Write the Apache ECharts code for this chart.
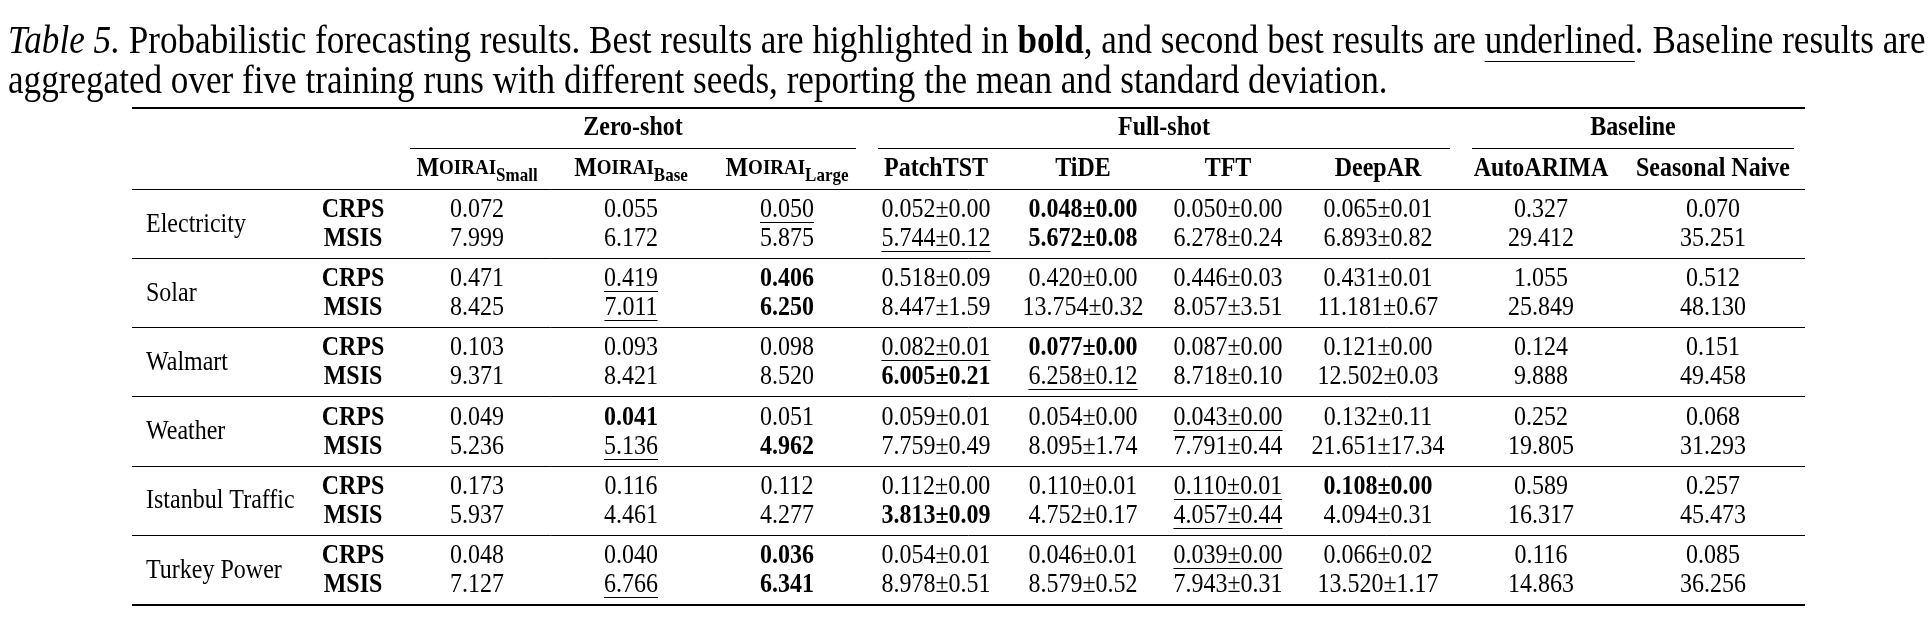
<!DOCTYPE html>
<html>
<head>
<meta charset="utf-8">
<script src="https://cdn.jsdelivr.net/npm/echarts@6/dist/echarts.min.js"></script>
<style>html,body{margin:0;padding:0;background:#fff}#c{width:1932px;height:632px}</style>
</head>
<body>
<div id="c"></div>
<script>
// ---------------- text / data ----------------
const captionLine1 = [
  { t: 'Table 5.', f: 'italic' },
  { t: ' Probabilistic forecasting results. Best results are highlighted in ' },
  { t: 'bold', f: 'bold' },
  { t: ', and second best results are ' },
  { t: 'underlined', u: true },
  { t: '. Baseline results are' }
];
const captionLine2 = 'aggregated over five training runs with different seeds, reporting the mean and standard deviation.';

const groupNames = ['Zero-shot', 'Full-shot', 'Baseline'];
const groupSpans = [3, 4, 2];
const moiraiSizes = ['Small', 'Base', 'Large'];
const otherModels = ['PatchTST', 'TiDE', 'TFT', 'DeepAR', 'AutoARIMA', 'Seasonal Naive'];
const datasets = ['Electricity', 'Solar', 'Walmart', 'Weather', 'Istanbul Traffic', 'Turkey Power'];
const metrics = ['CRPS', 'MSIS'];

// values: [CRPS, MSIS] per dataset, in dataset order
const moiraiSmall   = [0.072, 7.999, 0.471, 8.425, 0.103, 9.371, 0.049, 5.236, 0.173, 5.937, 0.048, 7.127];
const moiraiBase    = [0.055, 6.172, 0.419, 7.011, 0.093, 8.421, 0.041, 5.136, 0.116, 4.461, 0.040, 6.766];
const moiraiLarge   = [0.050, 5.875, 0.406, 6.250, 0.098, 8.520, 0.051, 4.962, 0.112, 4.277, 0.036, 6.341];
const patchTSTMean  = [0.052, 5.744, 0.518, 8.447, 0.082, 6.005, 0.059, 7.759, 0.112, 3.813, 0.054, 8.978];
const patchTSTStd   = [0.00, 0.12, 0.09, 1.59, 0.01, 0.21, 0.01, 0.49, 0.00, 0.09, 0.01, 0.51];
const tideMean      = [0.048, 5.672, 0.420, 13.754, 0.077, 6.258, 0.054, 8.095, 0.110, 4.752, 0.046, 8.579];
const tideStd       = [0.00, 0.08, 0.00, 0.32, 0.00, 0.12, 0.00, 1.74, 0.01, 0.17, 0.01, 0.52];
const tftMean       = [0.050, 6.278, 0.446, 8.057, 0.087, 8.718, 0.043, 7.791, 0.110, 4.057, 0.039, 7.943];
const tftStd        = [0.00, 0.24, 0.03, 3.51, 0.00, 0.10, 0.00, 0.44, 0.01, 0.44, 0.00, 0.31];
const deepARMean    = [0.065, 6.893, 0.431, 11.181, 0.121, 12.502, 0.132, 21.651, 0.108, 4.094, 0.066, 13.520];
const deepARStd     = [0.01, 0.82, 0.01, 0.67, 0.00, 0.03, 0.11, 17.34, 0.00, 0.31, 0.02, 1.17];
const autoARIMA     = [0.327, 29.412, 1.055, 25.849, 0.124, 9.888, 0.252, 19.805, 0.589, 16.317, 0.116, 14.863];
const seasonalNaive = [0.070, 35.251, 0.512, 48.130, 0.151, 49.458, 0.068, 31.293, 0.257, 45.473, 0.085, 36.256];

// [datasetIndex, metricIndex, modelIndex]
const bestCells = [[0,0,4],[0,1,4],[1,0,2],[1,1,2],[2,0,4],[2,1,3],[3,0,1],[3,1,2],[4,0,6],[4,1,3],[5,0,2],[5,1,2]];
const secondCells = [[0,0,2],[0,1,3],[1,0,1],[1,1,1],[2,0,3],[2,1,4],[3,0,5],[3,1,1],[4,0,5],[4,1,5],[5,0,5],[5,1,1]];

// ---------------- layout ----------------
const FONT = '"Liberation Serif", "Times New Roman", serif';
const FS = 24;
const STRETCH = 1.12;
const tableLeft = 132;
const colWidths = [175, 92, 156, 152, 160, 138, 156, 134, 166, 160, 184];
const nameIndent = 14;
const cmidTrim = 11;
const yTopRule = 108, yGroupHdr = 128, yCmid = 148, yColHdr = 169, yMidRule = 189;
const yFirstRow = 210, linePitch = 29, groupPitch = 69.2, ruleBelow = 48;
const captionLeft = 8, captionWidth = 1918, captionY1 = 43, captionY2 = 83;

const mctx = document.createElement('canvas').getContext('2d');
function textWidth(t, font) { mctx.font = font; return mctx.measureText(t).width; }

const colEdges = [tableLeft];
colWidths.forEach(w => colEdges.push(colEdges[colEdges.length - 1] + w));
const colCenter = i => (colEdges[i] + colEdges[i + 1]) / 2;
const tableRight = colEdges[colEdges.length - 1];

const valueCols = [
  { m: moiraiSmall }, { m: moiraiBase }, { m: moiraiLarge },
  { m: patchTSTMean, s: patchTSTStd }, { m: tideMean, s: tideStd },
  { m: tftMean, s: tftStd }, { m: deepARMean, s: deepARStd },
  { m: autoARIMA }, { m: seasonalNaive }
];

// ---------------- build cells ----------------
const cellPos = [], cellMeta = [];
function addCell(x, y, text, opt) { cellPos.push([x, y]); cellMeta.push(Object.assign({ text: text }, opt || {})); }

let startCol = 2;
const ruleData = [];
ruleData.push([tableLeft, tableRight, yTopRule, 2]);
groupNames.forEach((g, gi) => {
  const endCol = startCol + groupSpans[gi];
  addCell((colEdges[startCol] + colEdges[endCol]) / 2, yGroupHdr, g, { bold: true });
  ruleData.push([colEdges[startCol] + cmidTrim, colEdges[endCol] - cmidTrim, yCmid + 0.5, 1]);
  startCol = endCol;
});
ruleData.push([tableLeft, tableRight, yMidRule + 0.5, 1]);

const richHdr = {
  m: { fontFamily: FONT, fontWeight: 'bold', fontSize: 24 },
  sc: { fontFamily: FONT, fontWeight: 'bold', fontSize: 19 },
  sub: { fontFamily: FONT, fontWeight: 'bold', fontSize: 17, padding: [13, 0, 0, 0] }
};
moiraiSizes.forEach((s, i) => {
  addCell(colCenter(2 + i), yColHdr, '{m|M}{sc|OIRAI}{sub|' + s + '}', { bold: true, rich: richHdr });
});
otherModels.forEach((s, i) => addCell(colCenter(5 + i), yColHdr, s, { bold: true }));

const isIn = (arr, d, mt, mi) => arr.some(a => a[0] === d && a[1] === mt && a[2] === mi);

datasets.forEach((ds, d) => {
  const yBase = yFirstRow + d * groupPitch;
  addCell(tableLeft + nameIndent, yBase + linePitch / 2, ds, { align: 'left' });
  metrics.forEach((mt, k) => {
    const y = Math.round(yBase + k * linePitch);
    addCell(colCenter(1), y, mt, { bold: true });
    valueCols.forEach((vc, mi) => {
      const idx = d * 2 + k;
      let txt = vc.m[idx].toFixed(3);
      if (vc.s) txt += '±' + vc.s[idx].toFixed(2);
      addCell(colCenter(2 + mi), y, txt, { bold: isIn(bestCells, d, k, mi), underline: isIn(secondCells, d, k, mi) });
    });
  });
  const yr = Math.round(yBase + ruleBelow);
  if (d < datasets.length - 1) ruleData.push([tableLeft, tableRight, yr + 0.5, 1]);
  else ruleData.push([tableLeft, tableRight, yr + 1, 2]);
});

function renderCell(params, api) {
  const m = cellMeta[params.dataIndex];
  const p = api.coord([api.value(0), api.value(1)]);
  const font = (m.bold ? 'bold ' : '') + FS + 'px ' + FONT;
  const style = { text: m.text, font: font, fill: '#000', align: m.align || 'center', verticalAlign: 'middle' };
  if (m.rich) style.rich = m.rich;
  const children = [{ type: 'text', x: Math.round(p[0]), y: p[1], scaleY: STRETCH, style: style }];
  if (m.underline) {
    const w = textWidth(m.text, font);
    const x0 = (m.align === 'left') ? p[0] : p[0] - w / 2;
    const yy = Math.round(p[1] + 12) + 0.5;
    children.push({ type: 'line', shape: { x1: x0, y1: yy, x2: x0 + w, y2: yy }, style: { stroke: '#000', lineWidth: 1 } });
  }
  return { type: 'group', children: children };
}
function renderRule(params, api) {
  const a = api.coord([api.value(0), api.value(2)]);
  const b = api.coord([api.value(1), api.value(2)]);
  return { type: 'line', shape: { x1: a[0], y1: a[1], x2: b[0], y2: b[1] }, style: { stroke: '#000', lineWidth: api.value(3) } };
}

// ---------------- caption ----------------
const capFontFor = (seg, size) => (seg.f === 'italic' ? 'italic ' : seg.f === 'bold' ? 'bold ' : '') + size + 'px ' + FONT;
let w100 = 0;
captionLine1.forEach(s => { w100 += textWidth(s.t, capFontFor(s, 100)); });
const capFS = 100 * captionWidth / w100;
const graphics = [];
let cx = captionLeft;
captionLine1.forEach(s => {
  const font = capFontFor(s, capFS);
  const w = textWidth(s.t, font);
  graphics.push({ type: 'text', x: cx, y: captionY1, scaleY: STRETCH, style: { text: s.t, font: font, fill: '#000', verticalAlign: 'middle' } });
  if (s.u) {
    const uy = Math.round(captionY1 + capFS * 0.45 * STRETCH) + 0.5;
    graphics.push({ type: 'line', shape: { x1: cx, y1: uy, x2: cx + w, y2: uy }, style: { stroke: '#000', lineWidth: 1.2 } });
  }
  cx += w;
});
graphics.push({ type: 'text', x: captionLeft, y: captionY2, scaleY: STRETCH, style: { text: captionLine2, font: capFS + 'px ' + FONT, fill: '#000', verticalAlign: 'middle' } });

// ---------------- chart ----------------
const chart = echarts.init(document.getElementById('c'), null, { renderer: 'canvas' });
chart.setOption({
  animation: false,
  backgroundColor: '#fff',
  grid: { left: 0, right: 0, top: 0, bottom: 0 },
  xAxis: { type: 'value', min: 0, max: 1932, show: false },
  yAxis: { type: 'value', min: 0, max: 632, inverse: true, show: false },
  graphic: graphics,
  series: [
    { type: 'custom', name: 'rules', data: ruleData, encode: { x: [0, 1], y: 2 }, renderItem: renderRule, clip: false, silent: true },
    { type: 'custom', name: 'cells', data: cellPos, encode: { x: 0, y: 1 }, renderItem: renderCell, clip: false, silent: true }
  ]
});
</script>
</body>
</html>
